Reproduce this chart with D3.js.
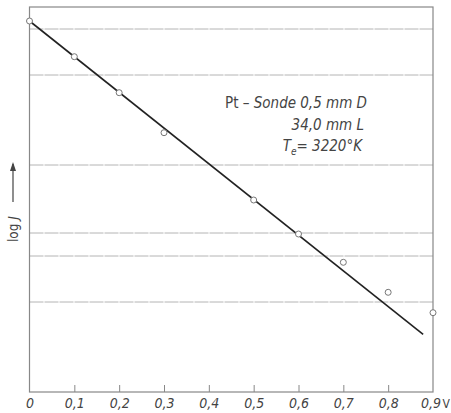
<!DOCTYPE html>
<html><head><meta charset="utf-8">
<script src="https://cdn.jsdelivr.net/npm/d3@7"></script>
<style>
html,body{margin:0;padding:0;background:#fff;}
svg{display:block;}
text{font-family:"DejaVu Sans Condensed","Liberation Sans Narrow","Liberation Sans",sans-serif;fill:#444;}
</style></head>
<body>
<script>
// Data (voltage V, log J in arbitrary units)
const voltages = [0, 0.1, 0.2, 0.3, 0.5, 0.6, 0.7, 0.8, 0.9];
const logJ = [3.71, 3.353, 2.993, 2.593, 1.92, 1.58, 1.297, 0.997, 0.793];
const fitV = [0, 0.878];
const fitLogJ = [3.71, 0.577];
const gridLogJ = [3.63, 3.17, 2.27, 1.59, 1.36, 0.90];
const xTicks = [0, 0.1, 0.2, 0.3, 0.4, 0.5, 0.6, 0.7, 0.8, 0.9];
const xTickLabels = ["0", "0,1", "0,2", "0,3", "0,4", "0,5", "0,6", "0,7", "0,8", "0,9"];

const W = 451, H = 413;
const svg = d3.select("body").append("svg").attr("width", W).attr("height", H);

const x = d3.scaleLinear().domain([0, 0.9]).range([29.5, 433]);
const y = d3.scaleLinear().domain([0, 3.85]).range([392, 7]);

// grid lines
svg.append("g").selectAll("line").data(gridLogJ).join("line")
  .attr("x1", x(0)).attr("x2", x(0.9))
  .attr("y1", d => y(d)).attr("y2", d => y(d))
  .attr("stroke", "#b4b4b4").attr("stroke-width", 1)
  .attr("stroke-dasharray", "14,1");

// frame
svg.append("rect").attr("x", x(0)).attr("y", y(3.85))
  .attr("width", x(0.9) - x(0)).attr("height", y(0) - y(3.85))
  .attr("fill", "none").attr("stroke", "#888").attr("stroke-width", 1.2);

// x axis ticks (upward)
const xAxis = d3.axisBottom(x).tickValues(xTicks).tickSize(-7)
  .tickFormat((d, i) => xTickLabels[i]).tickPadding(16);
const gx = svg.append("g").attr("transform", `translate(0,${y(0)})`).call(xAxis);
gx.select(".domain").remove();
gx.selectAll(".tick line").attr("stroke", "#888").attr("stroke-width", 1);
gx.selectAll(".tick text").attr("font-size", 14).attr("font-style", "italic")
  .attr("fill", "#444").attr("dy", "0");
gx.selectAll(".tick").filter((d, i) => i === 0 || i === xTicks.length - 1)
  .select("line").remove();
gx.selectAll(".tick").filter((d, i) => i === xTicks.length - 1)
  .select("text").attr("dx", -2.5);
// unit V
svg.append("text").attr("x", 450).attr("y", y(0) + 16)
  .attr("text-anchor", "end").attr("font-size", 12).text("V");

// fit line
svg.append("line")
  .attr("x1", x(fitV[0])).attr("y1", y(fitLogJ[0]))
  .attr("x2", x(fitV[1])).attr("y2", y(fitLogJ[1]))
  .attr("stroke", "#222").attr("stroke-width", 1.6);

// points
svg.append("g").selectAll("circle").data(voltages).join("circle")
  .attr("cx", d => x(d)).attr("cy", (d, i) => y(logJ[i]))
  .attr("r", 3).attr("fill", "#fff").attr("stroke", "#777").attr("stroke-width", 1);

// annotation
const ann = svg.append("g").attr("font-size", 15).attr("text-anchor", "end");
const t1 = ann.append("text").attr("x", 367).attr("y", 108);
t1.append("tspan").text("Pt – ");
t1.append("tspan").attr("font-style", "italic").text("Sonde 0,5 mm D");
ann.append("text").attr("x", 364).attr("y", 130).attr("font-style", "italic").text("34,0 mm L");
const t3 = ann.append("text").attr("x", 362).attr("y", 151).attr("font-style", "italic");
t3.append("tspan").text("T");
t3.append("tspan").attr("font-size", 10).attr("dy", 4).text("e");
t3.append("tspan").attr("dy", -4).text("= 3220°K");

// y label with arrow
const yl = svg.append("g").attr("transform", "translate(18,242) rotate(-90)");
const ylt = yl.append("text").attr("x", 0).attr("y", 0).attr("font-size", 13.5);
ylt.append("tspan").text("log ");
ylt.append("tspan").attr("font-style", "italic").text("J");
yl.append("line").attr("x1", 40).attr("x2", 78).attr("y1", -5).attr("y2", -5)
  .attr("stroke", "#444").attr("stroke-width", 1.2);
yl.append("path").attr("d", "M80,-5 L71,-8 L71,-2 Z").attr("fill", "#444");
</script>
</body></html>
